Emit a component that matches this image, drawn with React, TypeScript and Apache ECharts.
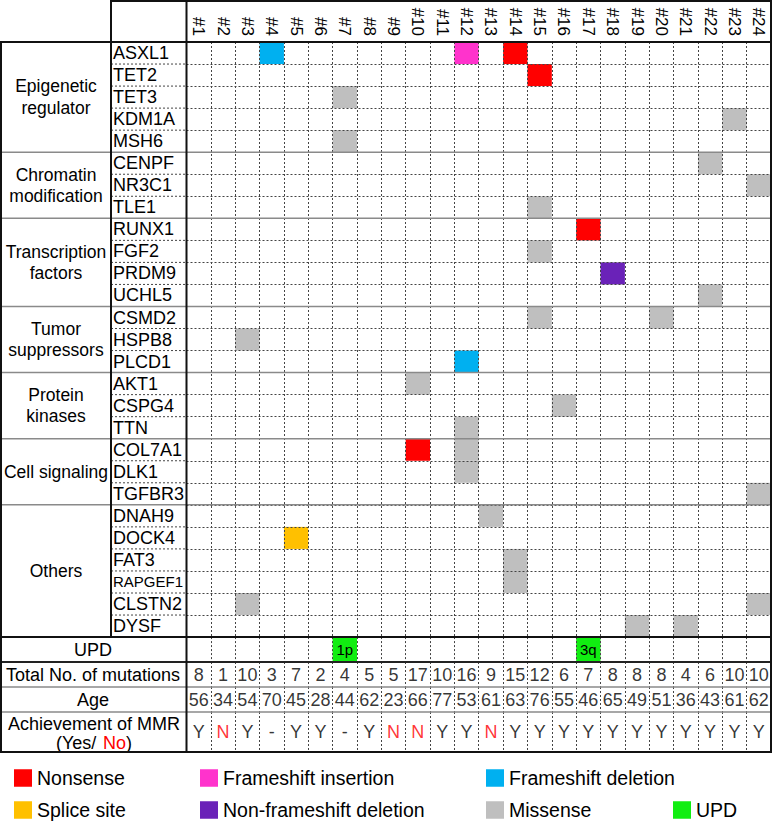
import React, { useEffect, useRef } from 'react';
import * as echarts from 'echarts';

const PATIENTS = ['#1', '#2', '#3', '#4', '#5', '#6', '#7', '#8', '#9', '#10', '#11', '#12',
  '#13', '#14', '#15', '#16', '#17', '#18', '#19', '#20', '#21', '#22', '#23', '#24'];

const GROUPS = ['Epigenetic\nregulator', 'Chromatin\nmodification', 'Transcription\nfactors',
  'Tumor\nsuppressors', 'Protein\nkinases', 'Cell signaling', 'Others'];
const GROUP_SIZES = [5, 3, 4, 3, 3, 3, 6];

const GENES = ['ASXL1', 'TET2', 'TET3', 'KDM1A', 'MSH6',
  'CENPF', 'NR3C1', 'TLE1',
  'RUNX1', 'FGF2', 'PRDM9', 'UCHL5',
  'CSMD2', 'HSPB8', 'PLCD1',
  'AKT1', 'CSPG4', 'TTN',
  'COL7A1', 'DLK1', 'TGFBR3',
  'DNAH9', 'DOCK4', 'FAT3', 'RAPGEF1', 'CLSTN2', 'DYSF'];

// [gene, patient]
const NONSENSE = [['ASXL1', '#14'], ['TET2', '#15'], ['RUNX1', '#17'], ['COL7A1', '#10']];
const FS_INSERTION = [['ASXL1', '#12']];
const FS_DELETION = [['ASXL1', '#4'], ['PLCD1', '#12']];
const SPLICE_SITE = [['DOCK4', '#5']];
const NONFS_DELETION = [['PRDM9', '#18']];
const MISSENSE = [['TET3', '#7'], ['KDM1A', '#23'], ['MSH6', '#7'], ['CENPF', '#22'], ['NR3C1', '#24'],
  ['TLE1', '#15'], ['FGF2', '#15'], ['UCHL5', '#22'], ['CSMD2', '#15'], ['CSMD2', '#20'],
  ['HSPB8', '#3'], ['AKT1', '#10'], ['CSPG4', '#16'], ['TTN', '#12'], ['COL7A1', '#12'],
  ['DLK1', '#12'], ['TGFBR3', '#24'], ['DNAH9', '#13'], ['FAT3', '#14'], ['RAPGEF1', '#14'],
  ['CLSTN2', '#3'], ['CLSTN2', '#24'], ['DYSF', '#19'], ['DYSF', '#21']];

const UPD = [['#7', '1p'], ['#17', '3q']];
const TOTAL_MUTATIONS = [8, 1, 10, 3, 7, 2, 4, 5, 5, 17, 10, 16, 9, 15, 12, 6, 7, 8, 8, 8, 4, 6, 10, 10];
const AGE = [56, 34, 54, 70, 45, 28, 44, 62, 23, 66, 77, 53, 61, 63, 76, 55, 46, 65, 49, 51, 36, 43, 61, 62];
const MMR = ['Y', 'N', 'Y', '-', 'Y', 'Y', '-', 'Y', 'N', 'N', 'Y', 'Y', 'N', 'Y', 'Y', 'Y', 'Y', 'Y', 'Y', 'Y', 'Y', 'Y', 'Y', 'Y'];

const ROW_LABELS = ['UPD', 'Total No. of mutations', 'Age', 'Achievement of MMR'];
const MMR_SUB = ['(Yes/ ', 'No', ')'];

const TYPE_NAMES = ['Nonsense', 'Frameshift insertion', 'Frameshift deletion', 'Splice site', 'Non-frameshift deletion', 'Missense'];
const TYPE_DATA = [NONSENSE, FS_INSERTION, FS_DELETION, SPLICE_SITE, NONFS_DELETION, MISSENSE];

// ---- styles / layout ----
const FONT = 'Arial, "Liberation Sans", sans-serif';
const TYPE_COLORS = ['#FF0000', '#FF33CC', '#00B0F0', '#FFC000', '#6A22B8', '#BFBFBF'];
const UPD_COLOR = '#11EE11';
const X_LEFT = 1, X_GENE = 111, X_GRID = 186.5, X_RIGHT = 771;
const TOP = 42, ROW_H = 22.04;
const GENE_BOTTOM = TOP + GENES.length * ROW_H;
const BOTTOM_ROWS = [[GENE_BOTTOM, 662], [662, 687], [687, 712], [712, 752]];
const GW = X_RIGHT - X_GRID;
const COL_W = GW / PATIENTS.length;
const LEGEND_POS = [[14, 768], [200, 768], [486, 768], [14, 800], [200, 800], [486, 800], [673, 800]];
const FS = 18;

export default function App() {
  const ref = useRef<HTMLDivElement>(null);
  useEffect(() => {
    const chart = echarts.init(ref.current!, null, { renderer: 'svg' });
    const dash = { color: '#444', type: [2, 2], width: 1 };
    const grids: any[] = [{ left: X_GRID, top: TOP, width: GW, height: GENE_BOTTOM - TOP }];
    BOTTOM_ROWS.forEach(([a, b]) => grids.push({ left: X_GRID, top: a, width: GW, height: b - a }));

    const xAxes = grids.map((_, i) => ({
      type: 'category', gridIndex: i, data: PATIENTS, position: 'top', z: 3,
      axisLabel: { show: i === 0, rotate: 90, margin: 6, fontSize: 17, color: '#000', fontFamily: FONT, interval: 0 },
      axisTick: { show: false }, axisLine: { show: false },
      splitLine: { show: true, interval: 0, lineStyle: dash },
    }));
    const yAxes: any[] = [{
      type: 'category', gridIndex: 0, data: GENES, inverse: true, z: 3,
      axisLabel: {
        align: 'left', margin: X_GRID - 113, fontSize: FS, color: '#000', fontFamily: FONT, interval: 0,
        formatter: (v: string) => (v === 'RAPGEF1' ? '{s|' + v + '}' : v),
        rich: { s: { fontSize: 15, fontFamily: FONT, color: '#000' } },
      },
      axisTick: { show: false }, axisLine: { show: false },
      splitLine: { show: true, interval: 0, lineStyle: dash },
    }];
    ROW_LABELS.forEach((lab, k) => yAxes.push({
      type: 'category', gridIndex: k + 1, data: [lab],
      axisLabel: {
        show: k < 3, align: 'center', margin: X_GRID - 93, fontSize: FS, color: '#000', fontFamily: FONT,
      },
      axisTick: { show: false }, axisLine: { show: false }, splitLine: { show: false },
    }));

    const series: any[] = TYPE_NAMES.map((name, t) => ({
      type: 'scatter', name, xAxisIndex: 0, yAxisIndex: 0, symbol: 'rect',
      symbolSize: [COL_W, ROW_H], itemStyle: { color: TYPE_COLORS[t], opacity: 1 }, silent: true,
      data: TYPE_DATA[t].map(([g, p]) => [p, g]), z: 2,
    }));
    series.push({
      type: 'scatter', name: 'UPD', xAxisIndex: 1, yAxisIndex: 1, symbol: 'rect',
      symbolSize: [COL_W, BOTTOM_ROWS[0][1] - BOTTOM_ROWS[0][0]], itemStyle: { color: UPD_COLOR, opacity: 1 }, silent: true,
      data: UPD.map(([p, v]) => [p, ROW_LABELS[0], v]), z: 2,
      label: { show: true, position: 'inside', formatter: (d: any) => d.value[2], fontSize: 15, color: '#000', fontFamily: FONT },
    });
    const textRow = (k: number, vals: any[], colorFn: (v: any) => string) => ({
      type: 'scatter', name: 'row' + k, xAxisIndex: k + 1, yAxisIndex: k + 1, symbol: 'rect', symbolSize: 1,
      itemStyle: { color: 'rgba(0,0,0,0)' }, silent: true,
      data: vals.map((v, i) => ({ value: [PATIENTS[i], ROW_LABELS[k], v], label: { color: colorFn(v) } })),
      label: { show: true, position: 'inside', formatter: (d: any) => String(d.value[2]), fontSize: 18, fontFamily: FONT },
    });
    series.push(textRow(1, TOTAL_MUTATIONS, () => '#000'));
    series.push(textRow(2, AGE, () => '#000'));
    series.push(textRow(3, MMR, (v) => (v === 'N' ? '#FF0000' : '#000')));

    const legendNames = [...TYPE_NAMES, 'UPD'];
    const legend = legendNames.map((n, i) => ({
      data: [n], left: LEGEND_POS[i][0], top: LEGEND_POS[i][1], padding: 0, icon: 'rect',
      itemWidth: 18, itemHeight: 17.5, selectedMode: false,
      textStyle: { fontSize: 19.5, color: '#000', fontFamily: FONT },
    }));

    const g: any[] = [];
    const line = (x1: number, y1: number, x2: number, y2: number, stroke: string, lw: number, dashArr?: number[]) =>
      g.push({ type: 'line', silent: true, z: 100, shape: { x1, y1, x2, y2 }, style: { stroke, lineWidth: lw, lineDash: dashArr } });
    const text = (t: string, x: number, y: number, align: string, fill = '#000') =>
      g.push({ type: 'text', silent: true, z: 100, x, y, style: { text: t, fontSize: FS, fontFamily: FONT, fill, align, verticalAlign: 'middle', lineHeight: 21.5 } });
    // dashed gene lines inside gene column and group separators
    let idx = 0;
    const groupStarts: number[] = [];
    GROUP_SIZES.forEach((n) => { groupStarts.push(idx); idx += n; });
    for (let r = 1; r < GENES.length; r++) {
      const y = TOP + r * ROW_H;
      if (groupStarts.includes(r)) line(X_LEFT, y, X_RIGHT, y, '#8a8a8a', 1.5);
      else line(X_GENE, y, X_GRID, y, '#444', 1, [2, 2]);
    }
    // category labels
    GROUPS.forEach((name, gi) => {
      const s = groupStarts[gi];
      const cy = TOP + (s + GROUP_SIZES[gi] / 2) * ROW_H;
      g.push({
        type: 'text', silent: true, z: 100, x: 56, y: cy,
        style: { text: name, fontSize: 17.5, fontFamily: FONT, fill: '#000', align: 'center', verticalAlign: 'middle', lineHeight: 21.5 },
      });
    });
    // MMR row label (two lines, "No" in red)
    text(ROW_LABELS[3], 94, 724, 'center');
    text(MMR_SUB[0], 56, 743, 'left');
    text(MMR_SUB[1], 103, 743, 'left', '#FF0000');
    text(MMR_SUB[2], 126, 743, 'left');
    // bottom rows separators
    line(X_LEFT, 687, X_RIGHT, 687, '#8a8a8a', 1.5);
    line(X_LEFT, 712, X_RIGHT, 712, '#8a8a8a', 1.5);
    line(X_LEFT, 662, X_RIGHT, 662, '#222', 1.8);
    // thick borders
    const K = '#111', T = 2;
    line(X_GENE, 1, X_RIGHT, 1, K, T);
    line(X_GENE, 0, X_GENE, GENE_BOTTOM, K, T);
    line(X_GRID, 0, X_GRID, 752, K, T);
    line(X_LEFT - 1, TOP, X_RIGHT + 1, TOP, K, T);
    line(X_LEFT, TOP, X_LEFT, 752, K, T);
    line(X_RIGHT, 0, X_RIGHT, 752, K, T);
    line(X_LEFT - 1, GENE_BOTTOM, X_RIGHT + 1, GENE_BOTTOM, K, T);
    line(X_LEFT - 1, 752, X_RIGHT + 1, 752, K, T);

    chart.setOption({
      animation: false,
      backgroundColor: '#fff',
      textStyle: { fontFamily: FONT },
      grid: grids,
      xAxis: xAxes,
      yAxis: yAxes,
      legend,
      series,
      graphic: { elements: g },
    });
    return () => chart.dispose();
  }, []);
  return <div ref={ref} style={{ position: 'fixed', left: 0, top: 0, width: 772, height: 823 }} />;
}
